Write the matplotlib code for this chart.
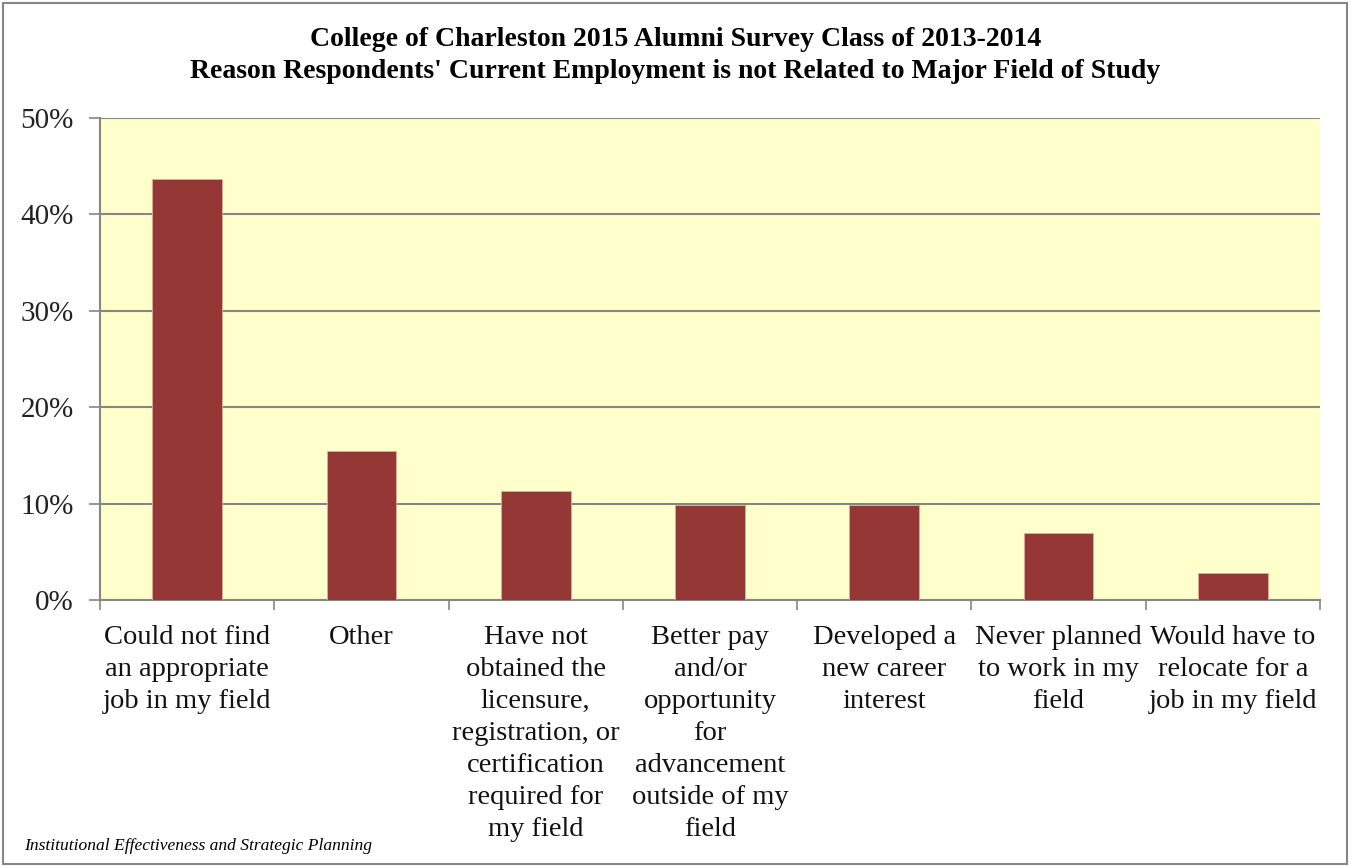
import numpy as np
import matplotlib
matplotlib.use('Agg')
import matplotlib.pyplot as plt
from matplotlib.patches import Rectangle

categories = ['Could not find\nan appropriate\njob in my field',
              'Other',
              'Have not\nobtained the\nlicensure,\nregistration, or\ncertification\nrequired for\nmy field',
              'Better pay\nand/or\nopportunity\nfor\nadvancement\noutside of my\nfield',
              'Developed a\nnew career\ninterest',
              'Never planned\nto work in my\nfield',
              'Would have to\nrelocate for a\njob in my field']
values = [43.7, 15.5, 11.3, 9.9, 9.9, 7.0, 2.8]
y_ticks = [0, 10, 20, 30, 40, 50]

plt.rcParams['font.family'] = ['Liberation Serif', 'DejaVu Serif']

fig = plt.figure(figsize=(13.51, 8.66), dpi=100)
ax = fig.add_axes([100/1351, 266/866, 1220/1351, 482/866])
ax.set_facecolor('#FFFFCC')

x = np.arange(len(categories))
ax.bar(x, values, width=0.4, color='#953735', edgecolor='#D8B0A0', linewidth=0.6, zorder=3)

ax.set_xlim(-0.5, len(categories) - 0.5)
ax.set_ylim(0, 50)
ax.set_yticks(y_ticks)
ax.set_yticklabels([f'{v}%' for v in y_ticks], fontsize=21, color='#222222')
ax.yaxis.grid(True, color='#868686', linewidth=1.5, zorder=1)

ax.set_xticks(x)
ax.set_xticklabels(categories, fontsize=20.5, linespacing=1.37, color='#111111')
ax.set_xticks(np.arange(-0.5, len(categories), 1), minor=True)
ax.tick_params(axis='x', which='major', length=0, pad=18)
ax.tick_params(axis='x', which='minor', length=7, width=1.2, color='#868686')
ax.tick_params(axis='y', length=8, width=1.2, color='#868686', pad=11)

for side in ['top', 'right']:
    ax.spines[side].set_visible(False)
for side in ['left', 'bottom']:
    ax.spines[side].set_color('#868686')
    ax.spines[side].set_linewidth(1.5)

fig.text(0.5, 1 - 40/866, 'College of Charleston 2015 Alumni Survey Class of 2013-2014',
         ha='center', va='center', fontsize=20, fontweight='bold')
fig.text(0.5, 1 - 72/866, "Reason Respondents' Current Employment is not Related to Major Field of Study",
         ha='center', va='center', fontsize=20, fontweight='bold')
fig.text(24/1351, 1 - 846/866, 'Institutional Effectiveness and Strategic Planning',
         ha='left', va='center', fontsize=12.6, style='italic')

fig.add_artist(Rectangle((3/1351, 2/866), 1344/1351, 861/866, transform=fig.transFigure,
                         fill=False, edgecolor='#868686', linewidth=1.5))

fig.savefig('out.png', dpi=100)
